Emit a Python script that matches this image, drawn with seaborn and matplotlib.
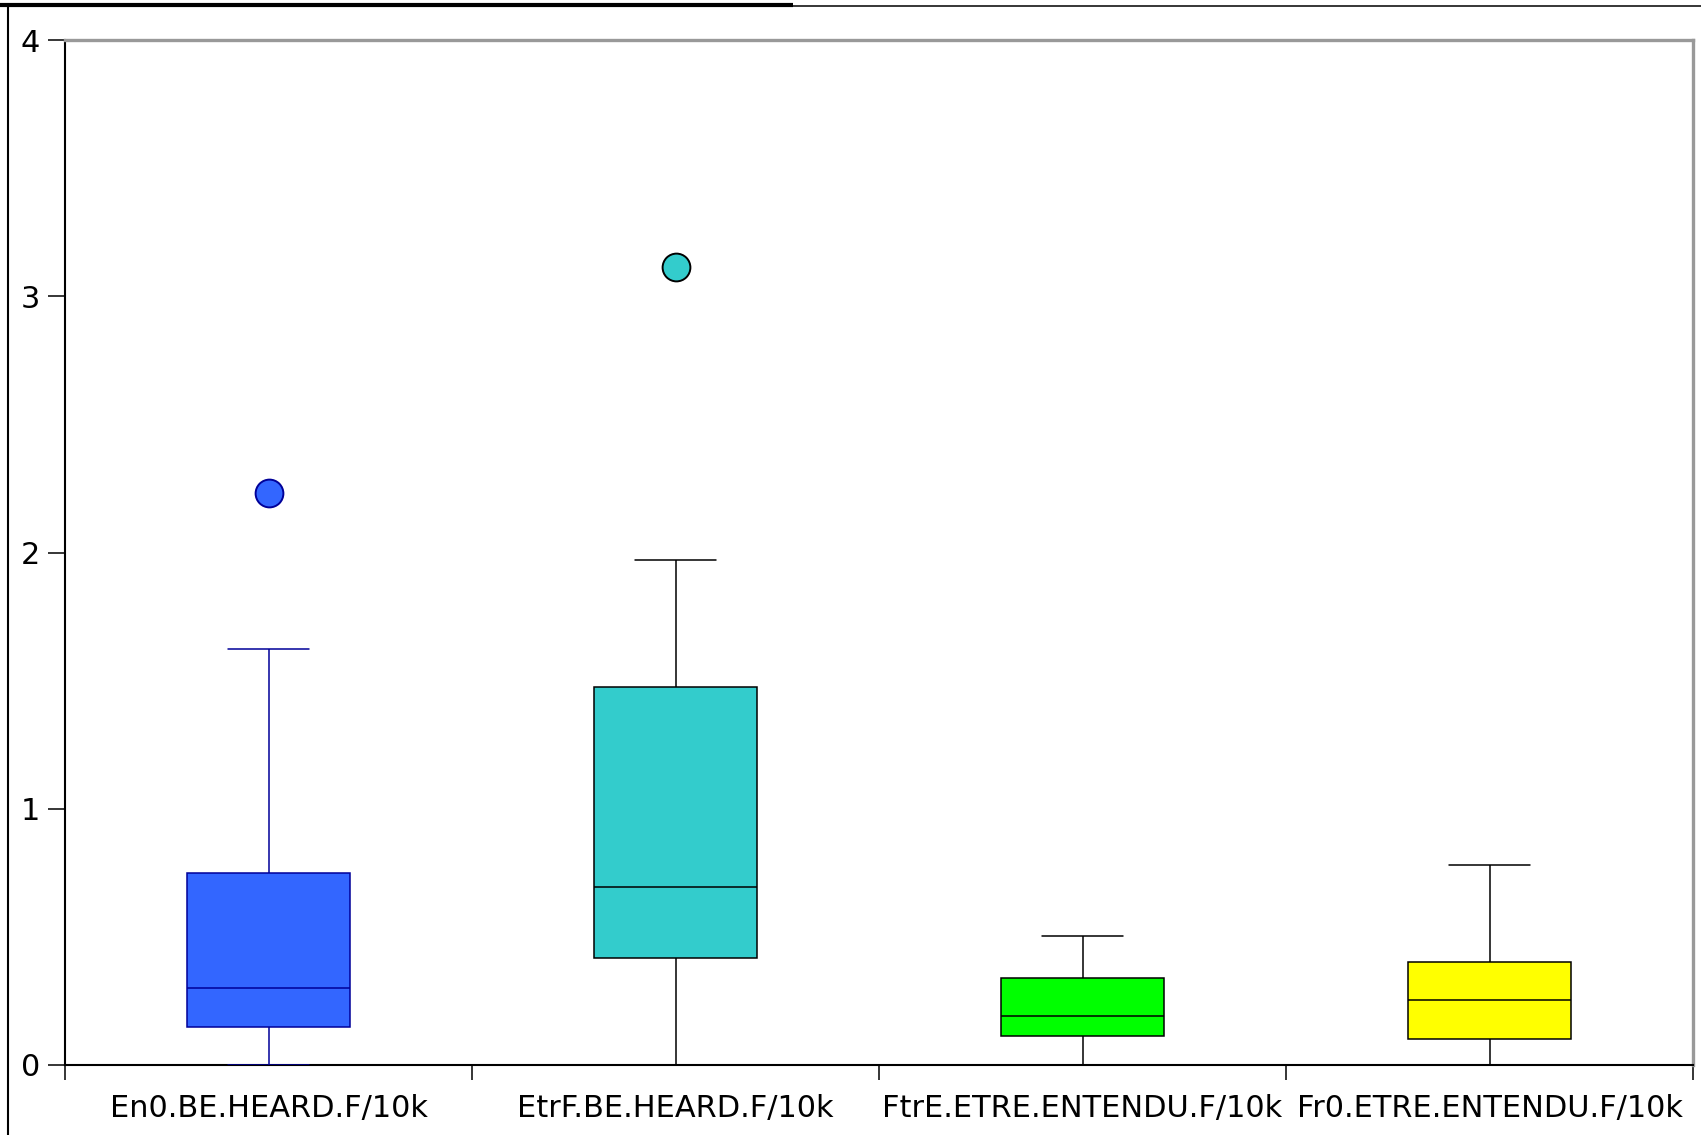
import numpy as np
import pandas as pd
import matplotlib
matplotlib.use("Agg")
import matplotlib.pyplot as plt
import seaborn as sns
from matplotlib.lines import Line2D

# Per-group summary statistics (normalised frequency per 10k words)
categories = ["En0.BE.HEARD.F/10k", "EtrF.BE.HEARD.F/10k",
              "FtrE.ETRE.ENTENDU.F/10k", "Fr0.ETRE.ENTENDU.F/10k"]
whisker_low = [0.0, 0.0, 0.0, 0.0]
q1 = [0.148, 0.419, 0.114, 0.102]
median = [0.300, 0.695, 0.191, 0.254]
q3 = [0.750, 1.475, 0.339, 0.403]
whisker_high = [1.623, 1.970, 0.504, 0.780]
outliers = [[2.233], [3.114], [], []]

box_colors = ["#3366FF", "#33CCCC", "#00FF00", "#FFFF00"]
edge_colors = ["#000099", "#000000", "#000000", "#000000"]
y_ticks = [0, 1, 2, 3, 4]

# Nine observations per group whose Tukey statistics reproduce the summary
rows = []
for i, cat in enumerate(categories):
    extra = outliers[i] if outliers[i] else [whisker_high[i]]
    vals = [whisker_low[i], q1[i], q1[i], median[i], median[i],
            q3[i], q3[i], whisker_high[i]] + extra
    rows += [(cat, v) for v in vals]
df = pd.DataFrame(rows, columns=["category", "value"])

sns.set_style("ticks")
plt.rcParams["font.family"] = ["DejaVu Sans"]

W, H = 1701, 1135
fig = plt.figure(figsize=(W / 100, H / 100), dpi=100)
fig.patch.set_facecolor("white")
ax = fig.add_axes([65 / W, 1 - 1065 / H, (1693 - 65) / W, (1065 - 40) / H])

sns.boxplot(data=df, x="category", y="value", order=categories,
            hue="category", hue_order=categories, palette=box_colors,
            saturation=1, width=0.4, linecolor="black", linewidth=1.1,
            whis=1.5, fliersize=20,
            flierprops=dict(marker="o", markeredgewidth=1.4),
            legend=False, ax=ax)

# Colour each box's outline, whiskers, caps, median and outliers
for line in ax.lines:
    xd = np.asarray(line.get_xdata(), dtype=float)
    if xd.size == 0:
        continue
    i = int(round(xd.mean()))
    if not 0 <= i < len(categories):
        continue
    if line.get_marker() not in (None, "None", "", " "):
        line.set_markerfacecolor(box_colors[i])
        line.set_markeredgecolor(edge_colors[i])
    else:
        line.set_color(edge_colors[i])
        line.set_zorder(3)
for p in ax.patches:
    ext = p.get_path().get_extents()
    i = int(round((ext.x0 + ext.x1) / 2))
    if 0 <= i < len(categories):
        p.set_edgecolor(edge_colors[i])

ax.set_xlim(-0.5, len(categories) - 0.5)
ax.set_ylim(0, 4)
ax.set_xlabel("")
ax.set_ylabel("")

# Ticks on group boundaries, labels centred under each box
ax.set_xticks(np.arange(-0.5, len(categories), 1.0))
ax.set_xticklabels([])
ax.set_xticks(np.arange(len(categories)), minor=True)
ax.set_xticklabels(categories, minor=True, fontsize=21.9, color="black")
ax.tick_params(axis="x", which="major", length=10.8, width=1.1,
               direction="out", color="black")
ax.tick_params(axis="x", which="minor", length=0, pad=21)
ax.set_yticks(y_ticks)
ax.set_yticklabels([str(t) for t in y_ticks], fontsize=21.9, color="black")
ax.tick_params(axis="y", length=12.2, width=1.1, direction="out",
               pad=5.8, color="black")

for side in ("left", "bottom"):
    ax.spines[side].set_color("black")
    ax.spines[side].set_linewidth(1.5)
for side in ("top", "right"):
    ax.spines[side].set_color("#999999")
    ax.spines[side].set_linewidth(2.4)
    ax.spines[side].set_visible(True)

# Window frame lines around the plot area
fig.add_artist(Line2D([8 / W, 8 / W], [0, 1 - 4 / H], transform=fig.transFigure,
                      color="black", linewidth=1.5))
fig.add_artist(Line2D([0, 793 / W], [1 - 5 / H, 1 - 5 / H], transform=fig.transFigure,
                      color="black", linewidth=3.0, solid_capstyle="butt"))
fig.add_artist(Line2D([793 / W, 1], [1 - 5.5 / H, 1 - 5.5 / H], transform=fig.transFigure,
                      color="black", linewidth=1.1, solid_capstyle="butt"))

fig.savefig("out.png", dpi=100, facecolor="white")
